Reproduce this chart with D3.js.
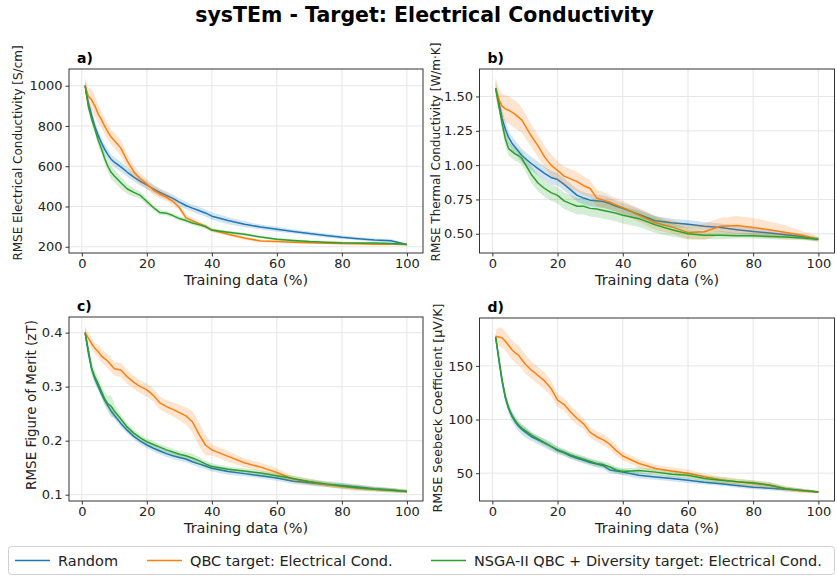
<!DOCTYPE html>
<html>
<head>
<meta charset="utf-8">
<script src="https://cdn.jsdelivr.net/npm/d3@7"></script>
<style>
  body { margin: 0; background: #fff; }
  svg { display: block; font-family: "DejaVu Sans", sans-serif; }
</style>
</head>
<body>
<svg id="chart" width="837" height="576"></svg>
<script>
// ---------- DATA ----------
const title = "sysTEm - Target: Electrical Conductivity";
const seriesNames = ["Random", "QBC target: Electrical Cond.", "NSGA-II QBC + Diversity target: Electrical Cond."];
const seriesColors = ["#1f77b4", "#ff7f0e", "#2ca02c"];
const xLabel = "Training data (%)";
const xTicks = [0, 20, 40, 60, 80, 100];

const trainingPct = [1,2,3,4,5,6,7,8,9,10,12,14,16,18,20,22,24,26,28,30,32,34,36,38,40,45,50,55,60,65,70,75,80,85,90,95,100];

// a) Electrical conductivity RMSE [S/cm]
const aRandom = [1000,914,855,797,755,718,685,658,635,620,597,570,546,525,507,488,470,455,440,422,405,392,380,368,352,330,312,298,287,276,266,256,247,240,233,230,211];
const aRandomSd = [30,28,27,25,25,25,25,25,25,25,25,24,22,22,20,20,20,20,20,18,18,18,18,18,18,18,15,12,12,10,10,10,9,8,8,8,5];
const aQBC = [1000,947,930,900,860,833,800,770,745,728,690,625,572,538,512,482,462,447,425,395,345,330,315,302,283,262,243,229,226,223,220,218,216,215,213,212,211];
const aQBCSd = [40,40,55,50,45,40,40,40,38,38,40,35,30,28,25,25,22,20,18,16,15,14,12,10,10,8,8,7,6,6,6,6,6,6,5,5,4];
const aNSGA = [1000,897,835,785,730,688,640,600,570,552,518,487,470,455,425,395,370,367,355,340,330,318,310,300,283,272,262,248,237,231,226,223,220,219,219,216,211];
const aNSGASd = [20,20,20,20,22,25,28,30,32,32,30,25,22,18,15,12,12,12,10,10,10,10,10,10,8,8,7,6,6,6,6,5,5,5,5,5,4];

// b) Thermal conductivity RMSE [W/m·K]
const bRandom = [1.56,1.46,1.34,1.26,1.20,1.16,1.13,1.10,1.07,1.05,1.01,0.975,0.94,0.91,0.895,0.86,0.82,0.78,0.76,0.745,0.74,0.735,0.72,0.70,0.685,0.64,0.595,0.58,0.57,0.555,0.545,0.53,0.517,0.505,0.493,0.48,0.46];
const bRandomSd = [0.05,0.05,0.06,0.06,0.05,0.05,0.05,0.05,0.05,0.05,0.05,0.05,0.05,0.05,0.045,0.045,0.045,0.045,0.045,0.045,0.045,0.045,0.045,0.04,0.04,0.04,0.035,0.03,0.03,0.03,0.03,0.03,0.025,0.025,0.02,0.02,0.015];
const bQBC = [1.56,1.48,1.43,1.41,1.40,1.386,1.37,1.35,1.33,1.29,1.21,1.14,1.06,1.00,0.96,0.92,0.90,0.88,0.85,0.83,0.76,0.745,0.73,0.71,0.69,0.635,0.58,0.55,0.51,0.515,0.555,0.56,0.545,0.53,0.51,0.49,0.46];
const bQBCSd = [0.08,0.08,0.09,0.1,0.1,0.1,0.1,0.1,0.09,0.09,0.08,0.08,0.08,0.08,0.07,0.07,0.07,0.07,0.07,0.06,0.06,0.06,0.05,0.05,0.05,0.05,0.05,0.05,0.05,0.06,0.06,0.07,0.07,0.06,0.05,0.03,0.02];
const bNSGA = [1.56,1.43,1.30,1.19,1.12,1.10,1.08,1.07,1.05,1.01,0.93,0.87,0.83,0.80,0.78,0.74,0.72,0.70,0.70,0.685,0.68,0.67,0.66,0.65,0.635,0.61,0.565,0.53,0.50,0.49,0.49,0.485,0.485,0.48,0.477,0.47,0.46];
const bNSGASd = [0.04,0.04,0.05,0.05,0.05,0.05,0.05,0.05,0.05,0.05,0.06,0.06,0.06,0.06,0.06,0.06,0.06,0.06,0.06,0.06,0.06,0.06,0.06,0.06,0.06,0.06,0.06,0.05,0.04,0.03,0.03,0.02,0.02,0.02,0.02,0.015,0.015];

// c) Figure of merit RMSE (zT)
const cRandom = [0.40,0.362,0.333,0.315,0.301,0.287,0.275,0.265,0.255,0.247,0.232,0.219,0.208,0.199,0.192,0.186,0.181,0.176,0.172,0.169,0.166,0.161,0.157,0.153,0.149,0.143,0.139,0.135,0.131,0.125,0.122,0.119,0.117,0.114,0.111,0.109,0.106];
const cRandomSd = [0.008,0.008,0.008,0.008,0.007,0.007,0.007,0.007,0.007,0.007,0.006,0.006,0.006,0.006,0.006,0.006,0.006,0.006,0.006,0.006,0.006,0.006,0.006,0.006,0.006,0.006,0.005,0.005,0.005,0.005,0.005,0.005,0.005,0.005,0.004,0.004,0.003];
const cQBC = [0.40,0.39,0.38,0.371,0.365,0.357,0.352,0.347,0.34,0.333,0.331,0.318,0.308,0.30,0.294,0.284,0.27,0.263,0.258,0.252,0.246,0.235,0.212,0.192,0.183,0.171,0.159,0.151,0.141,0.129,0.124,0.119,0.115,0.112,0.110,0.108,0.106];
const cQBCSd = [0.012,0.01,0.01,0.01,0.012,0.012,0.012,0.013,0.013,0.013,0.013,0.013,0.012,0.012,0.012,0.012,0.012,0.012,0.013,0.014,0.016,0.02,0.022,0.02,0.01,0.01,0.008,0.008,0.008,0.006,0.006,0.005,0.005,0.005,0.004,0.004,0.003];
const cNSGA = [0.40,0.368,0.334,0.318,0.306,0.292,0.278,0.268,0.264,0.255,0.24,0.225,0.214,0.205,0.198,0.193,0.188,0.183,0.179,0.175,0.172,0.168,0.163,0.157,0.152,0.147,0.144,0.14,0.135,0.13,0.124,0.12,0.116,0.113,0.11,0.108,0.106];
const cNSGASd = [0.008,0.008,0.012,0.012,0.01,0.01,0.012,0.015,0.02,0.012,0.008,0.007,0.006,0.006,0.006,0.006,0.006,0.006,0.006,0.006,0.007,0.008,0.007,0.006,0.006,0.005,0.005,0.005,0.005,0.005,0.005,0.005,0.005,0.005,0.004,0.004,0.003];

// d) Seebeck coefficient RMSE [μV/K]
const dRandom = [177,155,135,120,110,103,98,94,91,88.5,84,81,78,75,71,69,66,64,62,60,58.5,57,53,52,51,48,46.4,45,43.4,41.5,40.2,38.5,37,36,35,34,32.5];
const dRandomSd = [3,4,4,5,5,5,5,5,5,5,4,4,4,4,3,3,3,3,3,3,3,3,3,3,3,3,2.5,2.5,2.5,2,2,2,2,2,2,1.5,1];
const dQBC = [177.5,177,176,173,169,165,162,160,156,152,146,141,136,129,118,114,107,101,96,88,84,81,77,71,66,59,54.4,52,50,46.6,44,42,40.3,38.8,35.6,33.5,32.5];
const dQBCSd = [6,9,9,9,9,9,9,9,9,9,8,8,8,7,6,6,6,6,5,5,5,5,5,5,4,4,3.5,3.5,3.5,3,3,3,3,3,2.5,2,1.5];
const dNSGA = [177,157,137,121,111,104,99,95,92,90,85.5,82,78.5,75,72,69.5,67,65,63,61,59,58,56,53,51.5,52.5,51,49,48,45,43.4,42,41,39,35.6,34,32.5];
const dNSGASd = [3,3,3,3,3,3,3,3,3,3,3,3,3,3,3,3,3,3,3,3,3,3,3,3,3,3,3,3,3,3,3,2.5,2.5,2.5,2,1.5,1];

const panelLetters = ["a)", "b)", "c)", "d)"];
const yLabels = ["RMSE Electrical Conductivity [S/cm]", "RMSE Thermal Conductivity [W/m\u00B7K]", "RMSE Figure of Merit (zT)", "RMSE Seebeck Coefficient [\u03BCV/K]"];
const yTicksA = [200, 400, 600, 800, 1000];
const yTicksB = [0.50, 0.75, 1.00, 1.25, 1.50];
const yTicksC = [0.1, 0.2, 0.3, 0.4];
const yTicksD = [50, 100, 150];

// ---------- LAYOUT ----------
const panels = [
  { left: 69, right: 423, top: 69, bottom: 253, yDom: [169, 1083], ticks: yTicksA, fmt: d3.format("d"),
    means: [aRandom, aQBC, aNSGA], sds: [aRandomSd, aQBCSd, aNSGASd], ylx: 18, yly: 153, ylfs: 12 },
  { left: 479.5, right: 834.5, top: 69, bottom: 253, yDom: [0.36, 1.70], ticks: yTicksB, fmt: d3.format(".2f"),
    means: [bRandom, bQBC, bNSGA], sds: [bRandomSd, bQBCSd, bNSGASd], ylx: 436, yly: 152, ylfs: 12 },
  { left: 69, right: 423, top: 317, bottom: 501, yDom: [0.0883, 0.429], ticks: yTicksC, fmt: d3.format(".1f"),
    means: [cRandom, cQBC, cNSGA], sds: [cRandomSd, cQBCSd, cNSGASd], ylx: 31, yly: 405, ylfs: 13.5 },
  { left: 479.5, right: 834.5, top: 318, bottom: 501, yDom: [24.1, 194.6], ticks: yTicksD, fmt: d3.format("d"),
    means: [dRandom, dQBC, dNSGA], sds: [dRandomSd, dQBCSd, dNSGASd], ylx: 438, yly: 408, ylfs: 12.7 }
];

const svg = d3.select("#chart");

svg.append("text")
  .attr("x", 424.5).attr("y", 22)
  .attr("text-anchor", "middle")
  .attr("font-weight", "bold")
  .attr("font-size", "20.5px")
  .attr("fill", "#000")
  .text(title);

panels.forEach((p, pi) => {
  const x = d3.scaleLinear().domain([-3.95, 104.95]).range([p.left, p.right]);
  const y = d3.scaleLinear().domain(p.yDom).range([p.bottom, p.top]);
  const g = svg.append("g");

  // grid
  const grid = g.append("g");
  grid.selectAll("line.gx").data(xTicks).enter().append("line")
    .attr("x1", d => x(d)).attr("x2", d => x(d))
    .attr("y1", p.top).attr("y2", p.bottom)
    .attr("stroke", "#e6e6e6").attr("stroke-width", 1);
  grid.selectAll("line.gy").data(p.ticks).enter().append("line")
    .attr("x1", p.left).attr("x2", p.right)
    .attr("y1", d => y(d)).attr("y2", d => y(d))
    .attr("stroke", "#e6e6e6").attr("stroke-width", 1);

  // clip
  const clipId = "clip" + pi;
  svg.append("clipPath").attr("id", clipId).append("rect")
    .attr("x", p.left).attr("y", p.top).attr("width", p.right - p.left).attr("height", p.bottom - p.top);
  const plot = g.append("g").attr("clip-path", `url(#${clipId})`);

  p.means.forEach((m, si) => {
    const sd = p.sds[si];
    const rows = trainingPct.map((t, i) => ({ t, m: m[i], s: sd[i] }));
    const area = d3.area().x(d => x(d.t)).y0(d => y(d.m - d.s)).y1(d => y(d.m + d.s));
    const line = d3.line().x(d => x(d.t)).y(d => y(d.m));
    plot.append("path").datum(rows).attr("d", area)
      .attr("fill", seriesColors[si]).attr("fill-opacity", 0.2).attr("stroke", "none");
    plot.append("path").datum(rows).attr("d", line)
      .attr("fill", "none").attr("stroke", seriesColors[si]).attr("stroke-width", 1.5)
      .attr("stroke-linejoin", "round");
  });

  // axes
  const xAxis = d3.axisBottom(x).tickValues(xTicks).tickSize(3.5).tickPadding(2).tickFormat(d3.format("d"));
  const yAxis = d3.axisLeft(y).tickValues(p.ticks).tickSize(3.5).tickPadding(3).tickFormat(p.fmt);
  const gx = g.append("g").attr("transform", `translate(0,${p.bottom})`).call(xAxis);
  const gy = g.append("g").attr("transform", `translate(${p.left},0)`).call(yAxis);
  [gx, gy].forEach(a => {
    a.select(".domain").remove();
    a.selectAll("line").attr("stroke", "#333");
    a.selectAll("text").attr("font-size", "13px").attr("fill", "#222").attr("font-family", "DejaVu Sans, sans-serif");
  });

  // frame
  g.append("rect").attr("x", p.left).attr("y", p.top)
    .attr("width", p.right - p.left).attr("height", p.bottom - p.top)
    .attr("fill", "none").attr("stroke", "#333").attr("stroke-width", 1);

  // panel letter
  g.append("text").attr("x", p.left + 8).attr("y", p.top - 6)
    .attr("font-weight", "bold").attr("font-size", "14px").attr("fill", "#000")
    .text(panelLetters[pi]);

  // x label
  g.append("text").attr("x", (p.left + p.right) / 2).attr("y", p.bottom + 32)
    .attr("text-anchor", "middle").attr("font-size", "14.5px").attr("fill", "#222")
    .text(xLabel);

  // y label
  g.append("text")
    .attr("transform", `translate(${p.ylx},${p.yly}) rotate(-90)`)
    .attr("text-anchor", "middle").attr("dy", "0.35em")
    .attr("font-size", p.ylfs + "px").attr("fill", "#222")
    .text(yLabels[pi]);
});

// legend
const leg = svg.append("g");
leg.append("rect").attr("x", 8.5).attr("y", 546.5).attr("width", 826).attr("height", 28).attr("rx", 3)
  .attr("fill", "#fff").attr("stroke", "#d0d0d0").attr("stroke-width", 1);
const legX = [15, 147, 431];
seriesNames.forEach((n, i) => {
  leg.append("line").attr("x1", legX[i]).attr("x2", legX[i] + 35).attr("y1", 560.5).attr("y2", 560.5)
    .attr("stroke", seriesColors[i]).attr("stroke-width", 1.5);
  leg.append("text").attr("x", legX[i] + 43).attr("y", 565.5)
    .attr("font-size", "14.5px").attr("fill", "#222").text(n);
});
</script>
</body>
</html>
